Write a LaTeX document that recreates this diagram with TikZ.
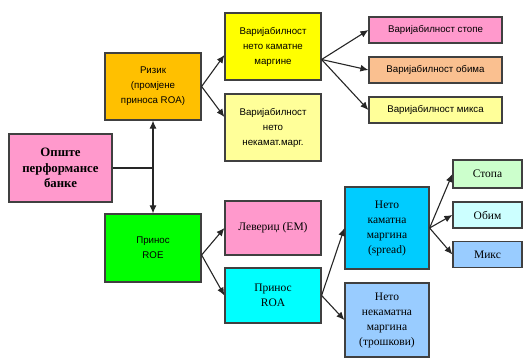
\documentclass[tikz,border=0pt]{standalone}
\usepackage{fontspec}
\setmainfont{Liberation Serif}
\newfontfamily\arialfont{Liberation Sans}
\usepackage{tikz}
\usetikzlibrary{arrows.meta}

\definecolor{boxline}{HTML}{404040}
\definecolor{cpink}{HTML}{FF99CC}
\definecolor{corange}{HTML}{FFC000}
\definecolor{cyellow}{HTML}{FFFF00}
\definecolor{clyellow}{HTML}{FFFF99}
\definecolor{cpeach}{HTML}{FAC090}
\definecolor{cgreen}{HTML}{00FF00}
\definecolor{ccyan}{HTML}{00FFFF}
\definecolor{cblue}{HTML}{00CCFF}
\definecolor{clblue}{HTML}{99CCFF}
\definecolor{clgreen}{HTML}{CCFFCC}
\definecolor{clcyan}{HTML}{CCFFFF}

\tikzset{
  box/.style={draw=boxline, line width=1.2pt, inner sep=2pt, align=center},
  sansbox/.style={box, font=\arialfont\fontsize{9.7}{15}\selectfont},
  serifbox/.style={box, font=\fontsize{11.5}{15}\selectfont},
  link/.style={draw=black!85, line width=1.1pt, -{Latex[length=8pt,width=7pt]}}
}

\begin{document}
\begin{tikzpicture}[x=1pt,y=-1pt]
            \useasboundingbox (0,0) rectangle (524,358);
            % Left column
            \node[box, fill=cpink, minimum width=103pt, minimum height=68pt,
              font=\bfseries\fontsize{12.8}{15.5}\selectfont] (opste) at (60.5,168) {Опште\\перформансе\\банке};
            \node[sansbox, fill=corange, minimum width=96pt, minimum height=67pt] (rizik) at (153,86.5) {Ризик\\(промјене\\приноса ROA)};
            \node[sansbox, fill=cgreen, minimum width=96pt, minimum height=68pt] (roe) at (153,248) {Принос\\ROE};
            % Second column
            \node[sansbox, fill=cyellow, minimum width=96pt, minimum height=67pt] (varkm) at (273,46.5) {Варијабилност\\нето каматне\\маргине};
            \node[sansbox, fill=clyellow, minimum width=96pt, minimum height=67pt] (varnkm) at (273,127.5) {Варијабилност\\нето\\некамат.марг.};
            \node[serifbox, fill=cpink, minimum width=96pt, minimum height=54pt] (lev) at (273,228) {Левериџ (ЕМ)};
            \node[serifbox, fill=ccyan, minimum width=96pt, minimum height=55pt] (roa) at (273,295.5) {Принос\\ROA};
            % Upper right column
            \node[sansbox, fill=cpink, minimum width=133pt, minimum height=26pt] (vstope) at (435.5,30) {Варијабилност стопе};
            \node[sansbox, fill=cpeach, minimum width=133pt, minimum height=26pt] (vobima) at (435.5,70) {Варијабилност обима};
            \node[sansbox, fill=clyellow, minimum width=133pt, minimum height=26pt] (vmiksa) at (435.5,110) {Варијабилност микса};
            % Lower right columns
            \node[serifbox, fill=cblue, minimum width=84pt, minimum height=82pt] (nkm) at (387,228) {Нето\\каматна\\маргина\\(spread)};
            \node[serifbox, fill=clblue, minimum width=84pt, minimum height=74pt] (nnkm) at (387,320) {Нето\\некаматна\\маргина\\(трошкови)};
            \node[serifbox, fill=clgreen, minimum width=69pt, minimum height=28pt] (stopa) at (487.5,174) {Стопа};
            \node[serifbox, fill=clcyan, minimum width=69pt, minimum height=26pt] (obim) at (487.5,215) {Обим};
            \node[serifbox, fill=clblue, minimum width=69pt, minimum height=26pt] (miks) at (487.5,254.5) {Микс};
            % Connectors
            \draw[draw=black!85, line width=1.1pt] (opste.east) -- (opste.east -| rizik.south);
            \draw[link, {Latex[length=8pt,width=7pt]}-{Latex[length=8pt,width=7pt]}] (rizik.south) -- (roe.north);
            \draw[link] (rizik.east) -- ([yshift=-8.5pt]varkm.west);
            \draw[link] (rizik.east) -- ([yshift=10.5pt]varnkm.west);
            \draw[link] ([yshift=-13pt]varkm.east) -- (vstope.west);
            \draw[link] ([yshift=-13pt]varkm.east) -- (vobima.west);
            \draw[link] ([yshift=-13pt]varkm.east) -- (vmiksa.west);
            \draw[link] ([yshift=-7pt]roe.east) -- (lev.west);
            \draw[link] ([yshift=-7pt]roe.east) -- (roa.west);
            \draw[link] (roa.east) -- (nkm.west);
            \draw[link] (roa.east) -- (nnkm.west);
            \draw[link] (nkm.east) -- (stopa.west);
            \draw[link] (nkm.east) -- (obim.west);
            \draw[link] (nkm.east) -- (miks.west);
\end{tikzpicture}
\end{document}
